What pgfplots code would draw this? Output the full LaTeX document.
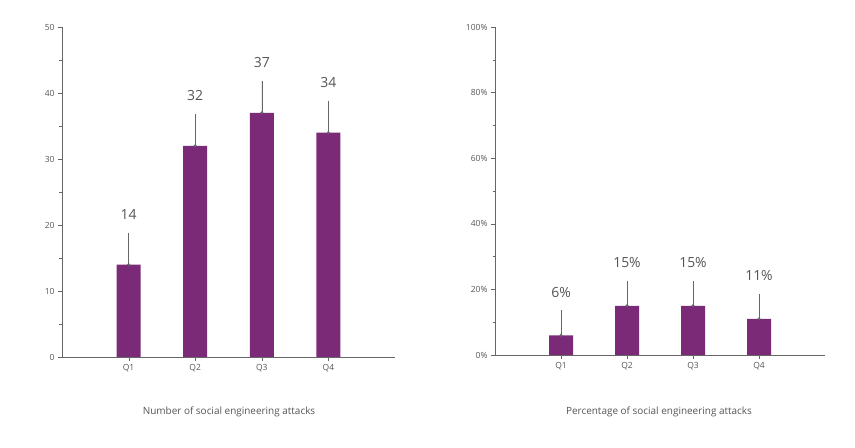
\documentclass[border=0pt]{standalone}
\usepackage{pgfplots}
\pgfplotsset{compat=1.18}
\usepackage{fontspec}
\setmainfont{Open Sans}
\definecolor{bar}{HTML}{7B2A78}
\definecolor{txt}{HTML}{555555}
\definecolor{ax}{HTML}{666666}
\pgfplotsset{
 base/.style={scale only axis, axis x line=bottom, axis y line=left,
  axis line style={ax,-}, tick style={ax}, tick align=outside,
  major tick length=4bp, minor tick length=2.5bp,
  xmin=0,xmax=5, xtick={1,2,3,4}, xticklabels={Q1,Q2,Q3,Q4},
  ticklabel style={font=\fontsize{8.5}{10}\selectfont, text=txt},
  /pgf/number format/assume math mode=true,
  minor y tick num=1, ymin=0,
  every axis plot/.append style={bar width=24bp},
  nodes near coords style={font=\fontsize{14}{16}\selectfont, text=txt, anchor=center},
 }}
\begin{document}
\begin{tikzpicture}
\path[use as bounding box] (0,0) rectangle (855bp,448bp);
\begin{axis}[base, at={(62bp,91bp)}, anchor=south west, width=333bp, height=330bp,
  ymax=50, ytick={0,10,...,50},
  nodes near coords style={yshift=50bp}]
\addplot[ybar, fill=bar, draw=none, nodes near coords,
  error bars/.cd, y dir=plus, y explicit, error mark=none, error bar style={ax}]
  coordinates {(1,14) +- (0,4.85) (2,32) +- (0,4.85) (3,37) +- (0,4.85) (4,34) +- (0,4.85)};
\addplot[only marks, mark=*, mark size=1.3bp, ax] coordinates {(1,14) (2,32) (3,37) (4,34)};
\end{axis}
\begin{axis}[base, at={(495bp,93bp)}, anchor=south west, width=330bp, height=328bp,
  ymax=100, ytick={0,20,...,100}, yticklabel={\pgfmathprintnumber{\tick}\%},
  nodes near coords style={yshift=43bp}]
\addplot[ybar, fill=bar, draw=none,
  nodes near coords={\pgfmathprintnumber{\pgfplotspointmeta}\%},
  error bars/.cd, y dir=plus, y explicit, error mark=none, error bar style={ax}]
  coordinates {(1,6) +- (0,7.6) (2,15) +- (0,7.6) (3,15) +- (0,7.6) (4,11) +- (0,7.6)};
\addplot[only marks, mark=*, mark size=1.3bp, ax] coordinates {(1,6) (2,15) (3,15) (4,11)};
\end{axis}
\node[text=txt, font=\fontsize{10}{12}\selectfont] at (229bp,36bp) {Number of social engineering attacks};
\node[text=txt, font=\fontsize{10}{12}\selectfont] at (659bp,36bp) {Percentage of social engineering attacks};
\end{tikzpicture}
\end{document}
